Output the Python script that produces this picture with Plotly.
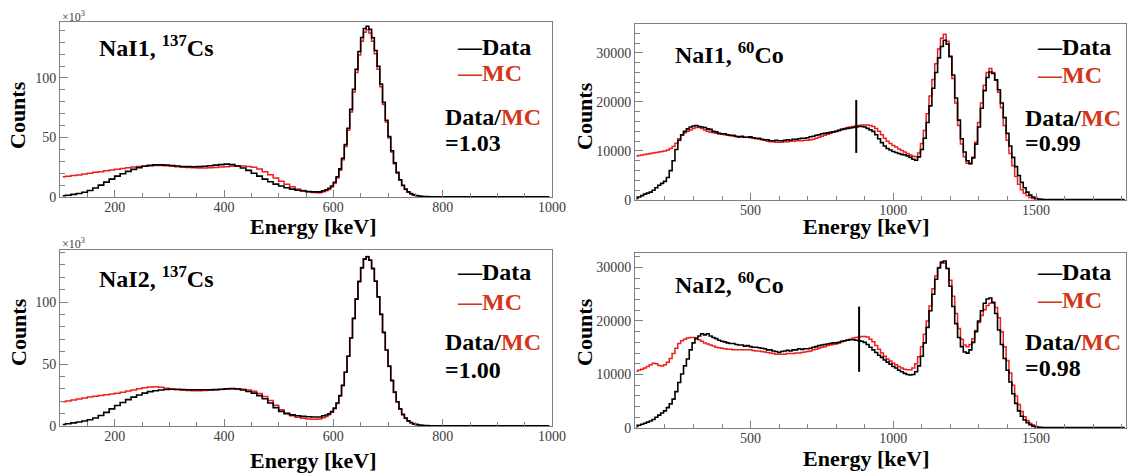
import plotly.graph_objects as go

W, H = 1127, 473

# ---------------------------------------------------------------- data ----
# 137Cs spectra, counts in units of 10^3.
# Bins: 10 keV from 100 to 580 keV, 5 keV across the photopeak (580-780 keV),
# 10 keV from 780 to 1000 keV.
cs_energy = (list(range(105, 580, 10))
             + [e + 2.5 for e in range(580, 780, 5)]
             + list(range(785, 1000, 10)))

cs_nai1_data = [
    # 100-580 keV
    1.0, 1.5, 2.2, 3.0, 4.0, 5.5, 7.5, 10.0, 12.5, 15.0,
    17.5, 19.5, 21.5, 23.2, 24.7, 25.8, 26.6, 27.0, 27.0, 26.8,
    26.4, 26.0, 25.6, 25.5, 25.4, 25.5, 25.8, 26.3, 26.8, 27.2,
    27.6, 27.2, 26.0, 24.4, 22.4, 20.0, 17.5, 15.0, 12.8, 10.8,
    9.2, 7.8, 6.6, 5.7, 5.0, 4.5, 4.3, 4.3,
    # 580-780 keV
    5.3, 6.1, 7.3, 9.3, 12.4, 17.0, 23.6, 32.5, 44.0, 57.8,
    73.6, 90.5, 107.2, 122.2, 134.0, 141.5, 143.4, 140.8, 133.8, 123.1,
    109.8, 94.9, 79.5, 64.5, 50.8, 38.8, 28.7, 20.7, 14.5, 9.9,
    6.6, 4.3, 2.8, 1.8, 1.2, 0.8, 0.5, 0.4, 0.3, 0.2,
    # 780-1000 keV
    0.2, 0.1, 0.1, 0.1, 0.1, 0.1, 0.1, 0.1, 0.1, 0.1, 0.1,
    0.1, 0.1, 0.1, 0.1, 0.1, 0.1, 0.1, 0.1, 0.1, 0.1, 0.1,
]
cs_nai1_mc = [
    17.0, 17.5, 18.0, 18.5, 19.3, 20.0, 20.7, 21.3, 22.0, 22.7,
    23.3, 24.0, 24.6, 25.2, 25.7, 26.0, 26.3, 26.5, 26.5, 26.2,
    25.8, 25.4, 25.0, 24.7, 24.5, 24.3, 24.3, 24.5, 24.8, 25.2,
    25.5, 25.8, 26.0, 26.0, 25.7, 25.0, 23.5, 21.3, 18.7, 16.0,
    13.3, 10.8, 8.6, 6.8, 5.4, 4.4, 3.8, 3.5,
    4.4, 5.2, 6.3, 8.3, 11.4, 15.9, 22.5, 31.2, 42.4, 56.0,
    71.5, 88.1, 104.5, 119.3, 130.8, 138.3, 140.4, 137.7, 130.8, 120.3,
    107.3, 92.7, 77.7, 63.0, 49.6, 37.7, 27.9, 20.0, 14.0, 9.4,
    6.3, 3.9, 2.6, 1.5, 1.0, 0.6, 0.3, 0.2, 0.15, 0.1,
    0.1, 0.05, 0.05, 0.05, 0.05, 0.05, 0.05, 0.05, 0.05, 0.05, 0.05,
    0.05, 0.05, 0.05, 0.05, 0.05, 0.05, 0.05, 0.05, 0.05, 0.05, 0.05,
]
cs_nai2_data = [
    1.2, 1.8, 2.5, 3.2, 4.0, 5.0, 6.5, 8.5, 11.0, 13.8,
    16.5, 19.0, 21.3, 23.3, 25.0, 26.5, 27.7, 28.5, 29.1, 29.5,
    29.7, 29.6, 29.4, 29.3, 29.3, 29.2, 29.2, 29.3, 29.4, 29.6,
    30.0, 30.2, 29.8, 29.0, 27.8, 26.5, 24.5, 22.0, 18.5, 14.8,
    11.8, 10.0, 9.0, 8.3, 7.8, 7.5, 7.3, 7.3,
    8.3, 8.9, 9.9, 11.6, 14.4, 18.5, 24.5, 32.8, 43.4, 56.3,
    71.0, 86.8, 102.4, 116.5, 127.6, 134.6, 136.5, 133.7, 127.0, 116.8,
    104.2, 90.1, 75.5, 61.3, 48.3, 36.8, 27.3, 19.6, 13.9, 9.4,
    6.4, 4.1, 2.8, 1.7, 1.3, 0.8, 0.5, 0.4, 0.3, 0.2,
    0.2, 0.1, 0.1, 0.1, 0.1, 0.1, 0.1, 0.1, 0.1, 0.1, 0.1,
    0.1, 0.1, 0.1, 0.1, 0.1, 0.1, 0.1, 0.1, 0.1, 0.1, 0.1,
]
cs_nai2_mc = [
    19.5, 20.2, 21.0, 21.8, 22.6, 23.3, 24.0, 24.6, 25.2, 25.8,
    26.5, 27.3, 28.2, 29.1, 30.0, 30.8, 31.4, 31.6, 31.2, 30.5,
    29.8, 29.2, 28.8, 28.6, 28.5, 28.5, 28.6, 28.8, 29.1, 29.4,
    29.7, 29.9, 30.0, 29.7, 29.0, 28.0, 26.3, 23.8, 20.5, 16.8,
    13.2, 10.2, 8.2, 7.0, 6.2, 5.7, 5.5, 5.7,
    6.7, 7.6, 9.0, 11.0, 14.0, 18.2, 24.3, 32.6, 43.3, 56.2,
    71.0, 86.8, 102.5, 116.7, 127.9, 135.0, 136.8, 134.0, 127.2, 117.0,
    104.3, 90.1, 75.4, 61.1, 48.0, 36.5, 27.0, 19.3, 13.6, 9.1,
    6.1, 3.9, 2.5, 1.5, 1.0, 0.6, 0.4, 0.3, 0.2, 0.1,
    0.1, 0.05, 0.05, 0.05, 0.05, 0.05, 0.05, 0.05, 0.05, 0.05, 0.05,
    0.05, 0.05, 0.05, 0.05, 0.05, 0.05, 0.05, 0.05, 0.05, 0.05, 0.05,
]

# 60Co spectra: 10 keV bins centred on 100 ... 1810 keV, counts in 10^3
co_energy = list(range(100, 1811, 10))

co_nai1_data_k = [
    0.3, 0.6, 0.9, 1.2, 1.4, 1.6, 2.0, 2.5, 3.0, 3.4,
    3.8, 4.6, 6.0, 8.0, 10.3, 12.2, 13.3, 14.0, 14.5, 14.9,
    15.1, 15.2, 15.0, 14.9, 14.8, 14.5, 14.4, 14.0, 13.9, 13.6,
    13.5, 13.5, 13.3, 13.2, 13.2, 13.0, 12.9, 13.0, 12.8, 12.8,
    12.9, 12.7, 12.6, 12.6, 12.4, 12.3, 12.3, 12.1, 12.1, 12.2,
    12.1, 12.1, 12.2, 12.3, 12.2, 12.4, 12.4, 12.5, 12.6, 12.6,
    12.7, 12.9, 13.0, 13.2, 13.3, 13.5, 13.6, 13.7, 13.8, 13.9,
    14.0, 14.2, 14.4, 14.5, 14.6, 14.7, 14.8, 14.9, 15.0, 15.0,
    14.9, 14.6, 14.3, 14.0, 13.3, 12.5, 11.7, 11.0, 10.5, 10.2,
    9.9, 9.7, 9.5, 9.3, 9.2, 9.0, 8.7, 8.3, 8.1, 8.8,
    10.3, 12.6, 15.8, 19.2, 22.8, 26.0, 29.0, 31.3, 32.6, 31.8,
    29.3, 25.5, 20.8, 16.3, 12.5, 9.8, 8.0, 7.5, 8.6, 11.4,
    14.9, 18.7, 22.3, 25.0, 26.1, 25.8, 24.5, 22.5, 19.8, 16.8,
    13.6, 11.0, 8.7, 6.8, 5.0, 3.6, 2.5, 1.6, 1.0, 0.6,
    0.35, 0.2, 0.15, 0.1, 0.1, 0.1, 0.1, 0.1, 0.1, 0.1,
    0.1, 0.1, 0.1, 0.1, 0.1, 0.1, 0.1, 0.1, 0.1, 0.1,
    0.1, 0.1, 0.1, 0.1, 0.1, 0.1, 0.1, 0.1, 0.1, 0.1,
    0.1, 0.1,
]
co_nai1_mc_k = [
    9.0, 9.1, 9.2, 9.3, 9.4, 9.5, 9.6, 9.7, 9.8, 9.9,
    10.0, 10.2, 10.5, 10.9, 11.6, 12.5, 13.2, 13.7, 14.0, 14.3,
    14.6, 14.8, 14.8, 14.6, 14.3, 14.0, 13.8, 13.7, 13.6, 13.5,
    13.4, 13.3, 13.2, 13.1, 13.0, 12.9, 12.8, 12.8, 12.8, 12.8,
    12.7, 12.6, 12.5, 12.4, 12.3, 12.2, 12.0, 11.9, 11.9, 11.8,
    11.8, 11.8, 11.9, 11.9, 12.0, 12.0, 12.1, 12.1, 12.1, 12.2,
    12.2, 12.3, 12.4, 12.6, 12.8, 13.0, 13.2, 13.4, 13.6, 13.8,
    14.0, 14.2, 14.4, 14.6, 14.8, 14.9, 15.0, 15.1, 15.2, 15.3,
    15.3, 15.3, 15.2, 15.0, 14.6, 14.0, 13.3, 12.6, 12.0, 11.5,
    11.1, 10.8, 10.4, 10.1, 9.8, 9.5, 9.2, 8.9, 8.8, 9.6,
    11.5, 14.2, 17.6, 21.2, 24.6, 27.8, 30.8, 33.0, 33.8, 32.4,
    29.2, 24.8, 19.8, 15.2, 11.4, 8.8, 7.5, 7.3, 8.7, 11.8,
    15.8, 19.8, 23.4, 26.0, 26.8, 26.0, 24.5, 22.0, 18.8, 15.2,
    12.2, 9.5, 7.0, 4.8, 3.2, 2.1, 1.4, 0.9, 0.5, 0.3,
    0.15, 0.1, 0.05, 0.05, 0.05, 0.05, 0.05, 0.05, 0.05, 0.05,
    0.05, 0.05, 0.05, 0.05, 0.05, 0.05, 0.05, 0.05, 0.05, 0.05,
    0.05, 0.05, 0.05, 0.05, 0.05, 0.05, 0.05, 0.05, 0.05, 0.05,
    0.05, 0.05,
]
co_nai2_data_k = [
    0.3, 0.5, 0.7, 0.9, 1.1, 1.3, 1.6, 2.0, 2.4, 2.8,
    3.2, 3.8, 4.5, 5.4, 6.8, 8.5, 10.1, 11.6, 12.9, 14.6,
    15.9, 16.7, 17.2, 17.6, 17.4, 17.6, 17.2, 16.9, 16.7, 16.4,
    16.2, 16.1, 15.9, 15.8, 15.8, 15.6, 15.5, 15.5, 15.3, 15.4,
    15.2, 15.1, 15.1, 15.0, 14.9, 14.8, 14.6, 14.6, 14.4, 14.3,
    14.1, 14.3, 14.4, 14.5, 14.4, 14.6, 14.6, 14.8, 14.7, 14.8,
    14.8, 14.9, 15.1, 15.2, 15.4, 15.5, 15.6, 15.7, 15.8, 15.9,
    15.9, 16.0, 16.2, 16.3, 16.4, 16.5, 16.5, 16.4, 16.3, 16.2,
    16.0, 15.6, 15.1, 14.6, 14.1, 13.6, 13.2, 12.7, 12.3, 11.9,
    11.5, 11.2, 10.8, 10.5, 10.2, 10.0, 9.9, 10.0, 10.5, 11.6,
    13.4, 15.9, 18.8, 21.9, 25.0, 27.8, 29.9, 31.0, 31.2, 29.8,
    26.5, 22.7, 19.5, 16.9, 15.2, 14.2, 14.0, 14.6, 16.0, 18.0,
    20.0, 21.9, 23.3, 24.1, 24.3, 23.5, 21.4, 18.3, 15.6, 13.0,
    10.8, 8.6, 6.4, 4.6, 3.2, 2.2, 1.5, 1.0, 0.6, 0.35,
    0.2, 0.15, 0.1, 0.1, 0.1, 0.1, 0.1, 0.1, 0.1, 0.1,
    0.1, 0.1, 0.1, 0.1, 0.1, 0.1, 0.1, 0.1, 0.1, 0.1,
    0.1, 0.1, 0.1, 0.1, 0.1, 0.1, 0.1, 0.1, 0.1, 0.1,
    0.1, 0.1,
]
co_nai2_mc_k = [
    10.6, 10.8, 11.0, 11.2, 11.5, 11.8, 12.1, 12.0, 11.7, 11.6,
    11.8, 12.3, 13.0, 13.9, 14.9, 15.8, 16.3, 16.6, 16.8, 16.9,
    16.9, 16.8, 16.5, 16.2, 15.9, 15.7, 15.5, 15.3, 15.1, 15.0,
    14.9, 14.8, 14.7, 14.7, 14.6, 14.6, 14.6, 14.6, 14.6, 14.6,
    14.6, 14.5, 14.4, 14.4, 14.3, 14.2, 14.1, 14.0, 13.9, 13.8,
    13.8, 13.8, 13.8, 13.9, 13.9, 13.9, 14.0, 14.0, 14.1, 14.2,
    14.3, 14.4, 14.6, 14.7, 14.9, 15.1, 15.2, 15.4, 15.5, 15.6,
    15.7, 15.9, 16.1, 16.3, 16.5, 16.6, 16.8, 16.9, 17.0, 17.1,
    17.1, 17.0, 16.6, 16.1, 15.4, 14.7, 14.0, 13.4, 12.9, 12.5,
    12.1, 11.8, 11.5, 11.2, 11.0, 10.9, 10.9, 11.2, 12.0, 13.3,
    15.2, 17.5, 20.0, 22.8, 26.0, 28.4, 30.0, 30.8, 30.8, 29.8,
    27.6, 24.6, 21.4, 18.6, 16.6, 15.5, 15.2, 15.6, 16.7, 18.2,
    19.7, 21.0, 22.1, 22.9, 23.3, 23.3, 22.5, 20.6, 18.0, 15.2,
    12.6, 10.3, 8.0, 6.0, 4.4, 3.1, 2.1, 1.4, 0.9, 0.55,
    0.3, 0.15, 0.1, 0.05, 0.05, 0.05, 0.05, 0.05, 0.05, 0.05,
    0.05, 0.05, 0.05, 0.05, 0.05, 0.05, 0.05, 0.05, 0.05, 0.05,
    0.05, 0.05, 0.05, 0.05, 0.05, 0.05, 0.05, 0.05, 0.05, 0.05,
    0.05, 0.05,
]

# vertical markers drawn on the 60Co spectra (energy, counts span)
co_nai1_marker_x = [870, 870]
co_nai1_marker_y = [9600, 20400]
co_nai2_marker_x = [880, 880]
co_nai2_marker_y = [10500, 22700]

# ------------------------------------------------------------- styling ----
SERIF = "Liberation Serif, Times New Roman, serif"
AXIS_GREY = "#808080"
TEXT_GREY = "#3c3c3c"
LINE_RED = "#f01e1e"
TEXT_RED = "#d3361a"


def px(x):
    return x / W


def py(y):
    return 1 - y / H


def x_axis(dom, rng, dtick, minor, anchor):
    return dict(
        domain=dom, range=rng, anchor=anchor, automargin=False,
        showline=True, mirror=True, linecolor=AXIS_GREY, linewidth=1,
        ticks="inside", ticklen=7, tickwidth=1, tickcolor=AXIS_GREY,
        tick0=0, dtick=dtick, ticklabelstandoff=-3,
        minor=dict(ticks="inside", ticklen=4, tick0=0, dtick=minor,
                   tickcolor=AXIS_GREY, showgrid=False),
        showgrid=False, zeroline=False, tickformat="d",
        tickfont=dict(family=SERIF, size=14, color=TEXT_GREY),
    )


def y_axis(dom, rng, dtick, minor, anchor):
    return dict(
        domain=dom, range=rng, anchor=anchor, automargin=False,
        showline=True, mirror=True, linecolor=AXIS_GREY, linewidth=1,
        ticks="inside", ticklen=8, tickwidth=1, tickcolor=AXIS_GREY,
        tick0=0, dtick=dtick,
        minor=dict(ticks="inside", ticklen=5, tick0=0, dtick=minor,
                   tickcolor=AXIS_GREY, showgrid=False),
        showgrid=False, zeroline=False, tickformat="d",
        tickfont=dict(family=SERIF, size=14, color=TEXT_GREY),
    )


fig = go.Figure()


def add_pair(x, data, mc, xa, ya, scale=1.0):
    fig.add_trace(go.Scatter(
        x=x, y=[v * scale for v in mc], mode="lines",
        line=dict(color=LINE_RED, width=1.5, shape="hvh"),
        xaxis=xa, yaxis=ya, showlegend=False, hoverinfo="skip"))
    fig.add_trace(go.Scatter(
        x=x, y=[v * scale for v in data], mode="lines",
        line=dict(color="black", width=1.6, shape="hvh"),
        xaxis=xa, yaxis=ya, showlegend=False, hoverinfo="skip"))


add_pair(cs_energy, cs_nai1_data, cs_nai1_mc, "x", "y")
add_pair(co_energy, co_nai1_data_k, co_nai1_mc_k, "x2", "y2", 1000)
add_pair(cs_energy, cs_nai2_data, cs_nai2_mc, "x3", "y3")
add_pair(co_energy, co_nai2_data_k, co_nai2_mc_k, "x4", "y4", 1000)

for mx, my, xa, ya in [(co_nai1_marker_x, co_nai1_marker_y, "x2", "y2"),
                       (co_nai2_marker_x, co_nai2_marker_y, "x4", "y4")]:
    fig.add_trace(go.Scatter(
        x=mx, y=my, mode="lines", line=dict(color="black", width=2),
        xaxis=xa, yaxis=ya, showlegend=False, hoverinfo="skip"))

cs_x = [px(60), px(552)]
co_x = [px(635), px(1126)]

fig.update_layout(
    width=W, height=H,
    margin=dict(l=0, r=0, t=0, b=0, autoexpand=False),
    paper_bgcolor="white", plot_bgcolor="white",
    xaxis=x_axis(cs_x, [100, 1000], 200, 50, "y"),
    yaxis=y_axis([py(197), py(22)], [0, 147], 50, 10, "x"),
    xaxis2=x_axis(co_x, [95, 1815], 500, 100, "y2"),
    yaxis2=y_axis([py(200), py(24)], [0, 35900], 10000, 2000, "x2"),
    xaxis3=x_axis(cs_x, [100, 1000], 200, 50, "y3"),
    yaxis3=y_axis([py(426), py(250)], [0, 142], 50, 10, "x3"),
    xaxis4=x_axis(co_x, [95, 1815], 500, 100, "y4"),
    yaxis4=y_axis([py(428), py(253)], [0, 32700], 10000, 2000, "x4"),
)

ann = []


def text(x, y, s, size=24, color="black", bold=True, anchor="left", angle=0):
    ann.append(dict(
        x=px(x), y=py(y), xref="paper", yref="paper", text=s,
        showarrow=False, xanchor=anchor, yanchor="middle", textangle=angle,
        font=dict(family=SERIF, size=size, color=color,
                  weight="bold" if bold else "normal")))


def legend_block(x_dash, x_ratio, y_data, y_mc, y_ratio, y_val, ratio):
    text(x_dash, y_data, "\u2014Data")
    text(x_dash, y_mc, "\u2014MC", color=TEXT_RED)
    text(x_ratio, y_ratio, "Data/<span style='color:%s'>MC</span>" % TEXT_RED)
    text(x_ratio, y_val, "=" + ratio)


# NaI1, 137Cs
text(97, 46, "NaI1, <sup>137</sup>Cs")
legend_block(455, 443, 47, 73, 117, 143, "1.03")
# NaI1, 60Co
text(673, 53, "NaI1, <sup>60</sup>Co")
legend_block(1035, 1023, 47, 75, 118, 143, "0.99")
# NaI2, 137Cs
text(97, 277, "NaI2, <sup>137</sup>Cs")
legend_block(455, 443, 272, 302, 342, 370, "1.00")
# NaI2, 60Co
text(673, 283, "NaI2, <sup>60</sup>Co")
legend_block(1035, 1023, 272, 300, 342, 368, "0.98")

# axis titles
for cx, cy in [(18, 115), (584, 116), (18, 332), (584, 332)]:
    text(cx, cy, "Counts", size=22, anchor="center", angle=-90)
for cx, cy in [(313, 226), (866, 226), (313, 460), (866, 458)]:
    text(cx, cy, "Energy [keV]", size=22, anchor="center")

# exponent labels of the 137Cs count axes
text(60, 16, "\u00d710<sup>3</sup>", size=12, color=TEXT_GREY, bold=False)
text(60, 244, "\u00d710<sup>3</sup>", size=12, color=TEXT_GREY, bold=False)

fig.update_layout(annotations=ann)

fig.write_html("out.html")
